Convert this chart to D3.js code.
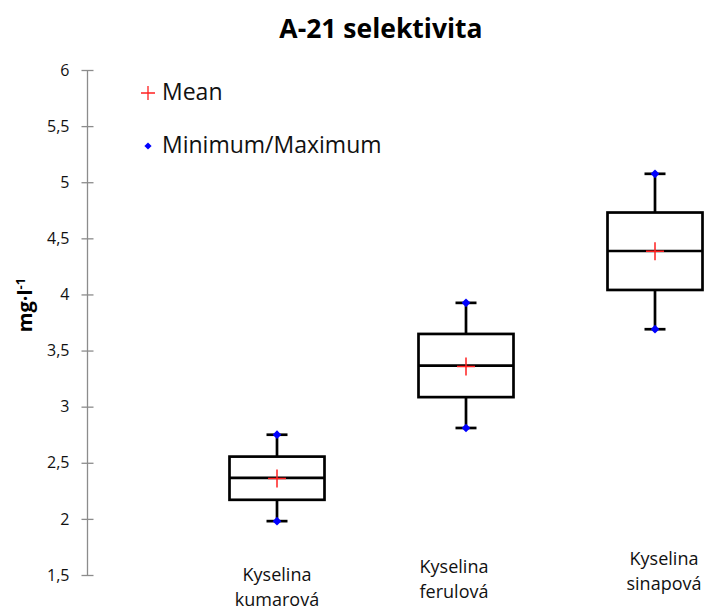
<!DOCTYPE html>
<html><head><meta charset="utf-8">
<script src="https://cdn.jsdelivr.net/npm/d3@7"></script>
<style>body{margin:0;background:#fff}svg{display:block}</style>
</head><body>
<svg id="c" width="713" height="610"></svg>
<script>
const categories = [["Kyselina","kumarová"],["Kyselina","ferulová"],["Kyselina","sinapová"]];
const minima = [1.98, 2.81, 3.69];
const q1 = [2.17, 3.085, 4.04];
const medians = [2.365, 3.365, 4.387];
const q3 = [2.555, 3.648, 4.73];
const maxima = [2.75, 3.925, 5.075];
const means = [2.36, 3.357, 4.385];
const yTicks = [1.5, 2, 2.5, 3, 3.5, 4, 4.5, 5, 5.5, 6];
const title = "A-21 selektivita";
const yTitle = "mg·l";
const yTitleSup = "-1";
const legendLabels = ["Mean", "Minimum/Maximum"];

const font = "'Open Sans', Calibri, sans-serif";
const svg = d3.select("#c");
const keys = categories.map(c => c.join(" "));
const x = d3.scalePoint().domain(keys).range([88, 844]).padding(1);
const y = d3.scaleLinear().domain([1.5, 6]).range([575, 70]);
const axisX = 87.5;

svg.append("text").attr("x", 381).attr("y", 38).attr("text-anchor", "middle")
  .attr("font-family", font).attr("font-weight", "bold").attr("font-size", 26.5).attr("fill", "#000").text(title);

// y axis
const ya = svg.append("g").attr("transform", `translate(${axisX},0)`)
  .call(d3.axisLeft(y).tickValues(yTicks).tickSize(6).tickFormat(d => String(d).replace(".", ",")));
ya.select(".domain").attr("stroke", "#8c8c8c").attr("stroke-width", 1.3).attr("d", `M0,${y(1.5)}V${y(6)}`);
ya.selectAll(".tick line").attr("stroke", "#8c8c8c").attr("stroke-width", 1.3).attr("x1", -6).attr("x2", 6);
ya.selectAll(".tick text").attr("font-family", font).attr("font-size", 16).attr("fill", "#111").attr("x", -18);

// y axis title
const yt = svg.append("text").attr("transform", "translate(32,305) rotate(-90)").attr("text-anchor", "middle")
  .attr("font-family", font).attr("font-weight", "bold").attr("font-size", 20).attr("fill", "#000");
yt.append("tspan").text(yTitle);
yt.append("tspan").attr("dy", -7).attr("font-size", 13).text(yTitleSup);

// x labels (staggered like the original)
const lift = [0, 8, 16];
const shift = [0, -12, 9];
keys.forEach((k, i) => {
  const t = svg.append("text").attr("text-anchor", "middle").attr("font-family", font)
    .attr("font-size", 18).attr("fill", "#111");
  t.append("tspan").attr("x", x(k) + shift[i]).attr("y", 581 - lift[i]).text(categories[i][0]);
  t.append("tspan").attr("x", x(k) + shift[i]).attr("y", 606 - lift[i]).text(categories[i][1]);
});

const bw = 95, cap = 21, sw = 2.7;
const g = svg.append("g");
const diamond = d3.symbol(d3.symbolSquare, 38)();
keys.forEach((k, i) => {
  const cx = x(k);
  g.append("line").attr("x1", cx).attr("x2", cx).attr("y1", y(maxima[i])).attr("y2", y(q3[i]))
    .attr("stroke", "#000").attr("stroke-width", sw);
  g.append("line").attr("x1", cx).attr("x2", cx).attr("y1", y(q1[i])).attr("y2", y(minima[i]))
    .attr("stroke", "#000").attr("stroke-width", sw);
  [maxima[i], minima[i]].forEach(v => g.append("line").attr("x1", cx - cap/2).attr("x2", cx + cap/2)
    .attr("y1", y(v)).attr("y2", y(v)).attr("stroke", "#000").attr("stroke-width", sw));
  g.append("rect").attr("x", cx - bw/2).attr("y", y(q3[i])).attr("width", bw).attr("height", y(q1[i]) - y(q3[i]))
    .attr("fill", "none").attr("stroke", "#000").attr("stroke-width", sw);
  g.append("line").attr("x1", cx - bw/2).attr("x2", cx + bw/2).attr("y1", y(medians[i])).attr("y2", y(medians[i]))
    .attr("stroke", "#000").attr("stroke-width", sw);
  const my = y(means[i]);
  g.append("path").attr("d", `M${cx-9},${my}H${cx+9}M${cx},${my-9}V${my+9}`).attr("stroke", "#ff2020").attr("stroke-width", 1.5);
  [maxima[i], minima[i]].forEach(v => g.append("path")
    .attr("d", diamond).attr("transform", `translate(${cx},${y(v)}) rotate(45)`).attr("fill", "#0000ff"));
});

// legend
svg.append("path").attr("d", "M141,93H155M148,86V100").attr("stroke", "#ff2020").attr("stroke-width", 1.3);
svg.append("text").attr("x", 162).attr("y", 100).attr("font-family", font).attr("font-size", 23).attr("fill", "#111").text(legendLabels[0]);
svg.append("path").attr("d", d3.symbol(d3.symbolSquare, 26)()).attr("transform", "translate(148,146) rotate(45)").attr("fill", "#0000ff");
svg.append("text").attr("x", 162).attr("y", 153).attr("font-family", font).attr("font-size", 23).attr("fill", "#111").text(legendLabels[1]);
</script>
</body></html>
